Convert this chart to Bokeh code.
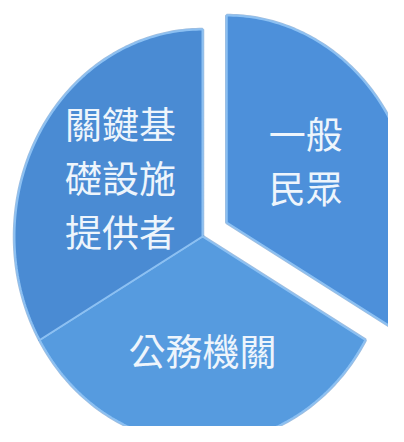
import numpy as np
from bokeh.plotting import figure
from bokeh.models import ColumnDataSource, Range1d
from bokeh.core.properties import value
from bokeh.embed import file_html
from bokeh.resources import INLINE

# ---- data ----
labels = ["一般\n民眾", "公務機關", "關鍵基\n礎設施\n提供者"]
shares = [1, 1, 1]
exploded = [True, False, False]
colors = ["#4d90da", "#569bdf", "#4a8bd3"]

# ---- geometry (layout) ----
cx, cy = 202.0, -236.0
rx, ry = 188.0, 207.0
explode_dist = 28.0
label_frac = [0.516, 0.55, 0.521]
label_ang = [35.5, 270.0, 146.8]
line_gap = 54.0

total = float(sum(shares))
angles = np.cumsum([0.0] + [s / total * 2 * np.pi for s in shares])
start0 = np.pi / 2  # start at 12 o'clock, go clockwise

xs, ys, lx, ly, lt = [], [], [], [], []
for i, s in enumerate(shares):
    a0 = start0 - angles[i]
    a1 = start0 - angles[i + 1]
    mid = (a0 + a1) / 2
    ox = explode_dist * np.cos(mid) if exploded[i] else 0.0
    oy = explode_dist * np.sin(mid) if exploded[i] else 0.0
    t = np.linspace(a0, a1, 120)
    px = np.concatenate([[cx + ox], cx + ox + rx * np.cos(t)])
    py = np.concatenate([[cy + oy], cy + oy + ry * np.sin(t)])
    xs.append(list(px))
    ys.append(list(py))
    la = np.deg2rad(label_ang[i])
    bx = cx + ox + label_frac[i] * rx * np.cos(la)
    by = cy + oy + label_frac[i] * ry * np.sin(la)
    lines = labels[i].split("\n")
    n = len(lines)
    for j, ln in enumerate(lines):
        lx.append(bx)
        ly.append(by - (j - (n - 1) / 2) * line_gap)
        lt.append(ln)

src = ColumnDataSource(dict(xs=xs, ys=ys, color=colors))
lsrc = ColumnDataSource(dict(x=lx, y=ly, text=lt))

p = figure(width=388, height=426, output_backend="svg", toolbar_location=None,
           x_range=Range1d(0, 388), y_range=Range1d(-426, 0),
           min_border=0, background_fill_color="white", border_fill_color="white")
p.axis.visible = False
p.grid.visible = False
p.outline_line_color = None

# soft outer shadow
p.patches("xs", "ys", source=src, fill_color=None, line_color="#2f6fb5",
          line_width=3.5, line_alpha=0.45)
p.patches("xs", "ys", source=src, fill_color="color", line_color="#8cc0f2",
          line_width=2)

p.text("x", "y", text="text", source=lsrc, text_align="center",
       text_baseline="middle", text_font=value("Noto Sans CJK TC"),
       text_font_size="37px", text_color="#eef5fc")

open("out.html", "w").write(file_html(p, INLINE))
